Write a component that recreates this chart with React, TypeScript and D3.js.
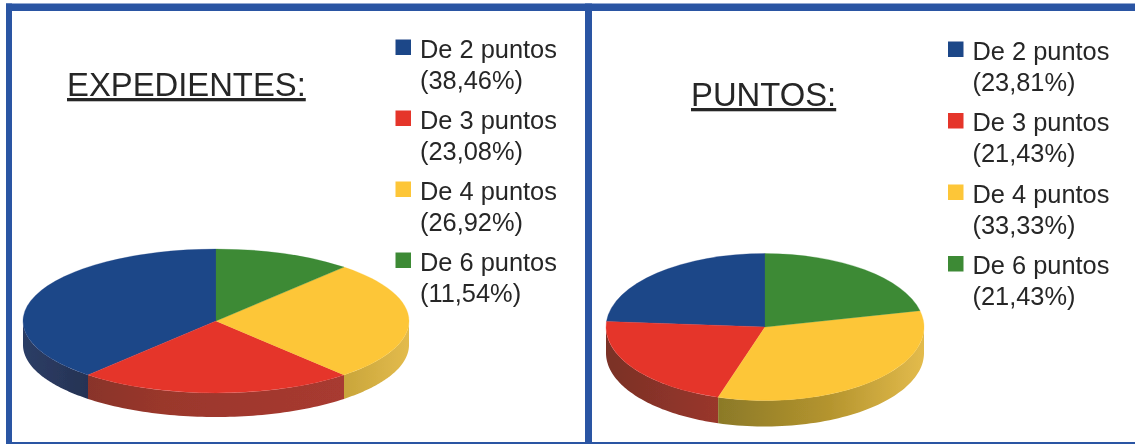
import React from 'react';
import * as d3 from 'd3';

const width = 1135;
const height = 444;

const categories = ['De 2 puntos', 'De 3 puntos', 'De 4 puntos', 'De 6 puntos'];
const expedientes = [38.46, 23.08, 26.92, 11.54];
const puntos = [23.81, 21.43, 33.33, 21.43];

const topColors = ['#1f4688', '#e5352c', '#fdc637', '#3c8a36'];
const sideStops = [
  [[0, '#2c3d66'], [0.2, '#253150'], [1, '#253150']],
  [[0, '#7a3026'], [0.36, '#9a372c'], [0.83, '#a83a30'], [1, '#a83a30']],
  [[0, '#8c7a28'], [0.36, '#8c7a28'], [0.7, '#b4942e'], [1, '#e3bb4c']],
  [[0, '#2c6a2a'], [1, '#2c6a2a']],
];

const color = d3.scaleOrdinal<string, string>().domain(categories).range(topColors);

const pie = d3.pie<number>().sort(null).startAngle(2 * Math.PI).endAngle(0);

const panels = [
  {
    id: 'exp', title: 'EXPEDIENTES:', titleX: 67, titleY: 96, values: expedientes,
    cx: 216, cy: 321, rx: 193, ry: 72, depth: 24,
    legendX: 395.5, legendY0: 57.5, legendStep: 71,
  },
  {
    id: 'pun', title: 'PUNTOS:', titleX: 691, titleY: 106, values: puntos,
    cx: 765, cy: 327, rx: 159, ry: 73.5, depth: 26,
    legendX: 948, legendY0: 59.5, legendStep: 71.5,
  },
];

function Pie3D({ panel }: { panel: typeof panels[number] }) {
  const { id, cx, cy, rx, ry, depth, values } = panel;
  const slices = pie(values);
  const arc = d3.arc<d3.PieArcDatum<number>>().innerRadius(0).outerRadius(rx);
  const wall = d3.area<number>()
    .x(a => cx + rx * Math.sin(a))
    .y0(a => cy - ry * Math.cos(a))
    .y1(a => cy - ry * Math.cos(a) + depth);

  return (
    <g>
      <defs>
        {categories.map((c, i) => (
          <linearGradient key={c} id={`${id}-side-${i}`} gradientUnits="userSpaceOnUse" x1={cx - rx} x2={cx + rx} y1={0} y2={0}>
            {sideStops[i].map(([o, col]) => <stop key={String(o)} offset={o as number} stopColor={col as string} />)}
          </linearGradient>
        ))}
      </defs>
      {slices.map((s, i) => {
        // only the front half of the rim shows
        const a0 = Math.max(Math.min(s.startAngle, s.endAngle), Math.PI / 2);
        const a1 = Math.min(Math.max(s.startAngle, s.endAngle), 1.5 * Math.PI);
        if (a1 <= a0) return null;
        const angles = d3.range(0, 61).map(k => a0 + (a1 - a0) * k / 60);
        return <path key={i} d={wall(angles) as string} fill={`url(#${id}-side-${i})`} />;
      })}
      <g transform={`translate(${cx},${cy}) scale(1,${ry / rx})`}>
        {slices.map((s, i) => (
          <path key={i} d={arc(s) as string} fill={color(categories[i])} stroke={color(categories[i])} strokeWidth={0.4} />
        ))}
      </g>
    </g>
  );
}

function Legend({ panel }: { panel: typeof panels[number] }) {
  const y = d3.scaleLinear().domain([0, 1]).range([panel.legendY0, panel.legendY0 + panel.legendStep]);
  return (
    <g fontFamily="Liberation Sans" fontSize={25.4} fill="#262626">
      {categories.map((c, i) => (
        <g key={c}>
          <rect x={panel.legendX} y={y(i) - 18} width={15.5} height={15.5} fill={color(c)} />
          <text x={panel.legendX + 24.5} y={y(i)}>{c}</text>
          <text x={panel.legendX + 24.5} y={y(i) + 31}>{`(${panel.values[i].toFixed(2).replace('.', ',')}%)`}</text>
        </g>
      ))}
    </g>
  );
}

export default function App() {
  const frame = '#2a55a3';
  return (
    <svg width={width} height={height} style={{ position: 'absolute', left: 0, top: 0 }}>
      <defs>
        <filter id="scan" x="0" y="0" width="100%" height="100%">
          <feGaussianBlur stdDeviation={0.45} />
        </filter>
      </defs>
      <rect width={width} height={height} fill="#fff" />
      <g filter="url(#scan)">
        <rect x={6} y={3.5} width={width - 6} height={7.5} fill={frame} />
        <rect x={6} y={3.5} width={6} height={height - 3.5} fill={frame} />
        <rect x={585} y={3.5} width={7} height={height - 3.5} fill={frame} />
        <rect x={6} y={442} width={width - 6} height={2} fill={frame} />
        {panels.map(p => (
          <g key={p.id}>
            <text x={p.titleX} y={p.titleY} fontFamily="Liberation Sans" fontSize={32.8} fill="#262626" textDecoration="underline">{p.title}</text>
            <Legend panel={p} />
            <Pie3D panel={p} />
          </g>
        ))}
      </g>
    </svg>
  );
}
